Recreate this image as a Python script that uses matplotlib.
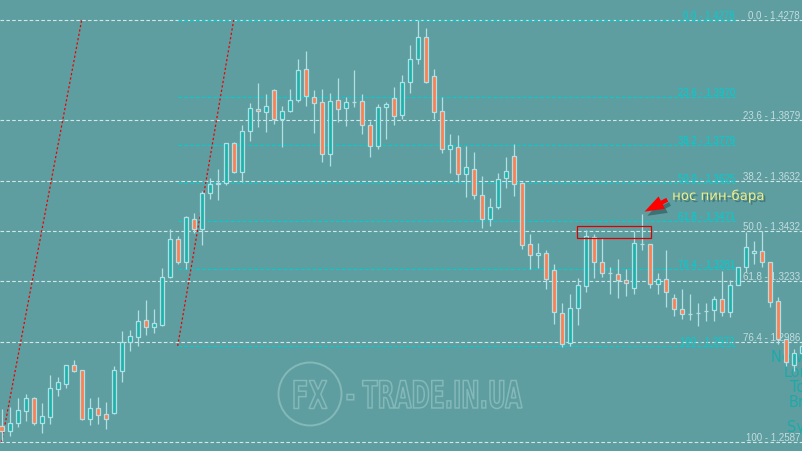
import matplotlib
matplotlib.use('Agg')
import numpy as np
import matplotlib.pyplot as plt
from matplotlib.patches import Rectangle, Circle, PathPatch, FancyArrowPatch
from matplotlib.textpath import TextPath
from matplotlib.font_manager import FontProperties
from matplotlib.transforms import Affine2D, blended_transform_factory
import matplotlib.patheffects as pe

plt.rcParams['lines.scale_dashes'] = False

# ---------------- data ----------------
opens = [1.2651, 1.2631, 1.2663, 1.2711, 1.2763, 1.2663, 1.2687, 1.2799, 1.2819, 1.2896,
         1.2876, 1.2679, 1.2723, 1.2699, 1.2703, 1.2872, 1.2988, 1.3008, 1.3076, 1.3048,
         1.3056, 1.3248, 1.3400, 1.3308, 1.3481, 1.3440, 1.3585, 1.3621, 1.3625, 1.3785,
         1.3670, 1.3833, 1.3921, 1.3909, 1.3997, 1.3881, 1.3913, 1.3957, 1.4082, 1.3969,
         1.3949, 1.3741, 1.3957, 1.3925, 1.3949, 1.3953, 1.3857, 1.3773, 1.3929, 1.3965,
         1.3897, 1.4030, 1.4122, 1.4210, 1.4054, 1.3913, 1.3761, 1.3769, 1.3662, 1.3681,
         1.3577, 1.3481, 1.3529, 1.3645, 1.3733, 1.3625, 1.3380, 1.3336, 1.3344, 1.3276,
         1.3104, 1.2984, 1.3124, 1.3212, 1.3408, 1.3308, 1.3264, 1.3260, 1.3236, 1.3204,
         1.3380, 1.3380, 1.3220, 1.3240, 1.3164, 1.3120, 1.3100, 1.3104, 1.3112, 1.3116,
         1.3160, 1.3108, 1.3216, 1.3288, 1.3344, 1.3352, 1.3308, 1.3152, 1.2998, 1.2896,
         1.2944]
highs = [1.2719, 1.2727, 1.2763, 1.2779, 1.2767, 1.2743, 1.2856, 1.2847, 1.2896, 1.2916,
         1.2876, 1.2763, 1.2767, 1.2747, 1.2892, 1.3032, 1.3036, 1.3116, 1.3156, 1.3120,
         1.3284, 1.3440, 1.3412, 1.3493, 1.3505, 1.3593, 1.3645, 1.3681, 1.3785, 1.3789,
         1.3857, 1.3945, 1.4026, 1.3981, 1.4002, 1.3933, 1.4002, 1.4122, 1.4154, 1.3997,
         1.4002, 1.3985, 1.4046, 1.3969, 1.4078, 1.3981, 1.3873, 1.3941, 1.3949, 1.4010,
         1.4058, 1.4178, 1.4278, 1.4246, 1.4082, 1.3969, 1.3821, 1.3817, 1.3773, 1.3749,
         1.3653, 1.3565, 1.3666, 1.3729, 1.3781, 1.3629, 1.3420, 1.3384, 1.3356, 1.3300,
         1.3146, 1.3180, 1.3244, 1.3436, 1.3420, 1.3404, 1.3288, 1.3319, 1.3280, 1.3432,
         1.3501, 1.3380, 1.3264, 1.3356, 1.3180, 1.3200, 1.3180, 1.3146, 1.3146, 1.3172,
         1.3272, 1.3236, 1.3288, 1.3428, 1.3392, 1.3432, 1.3308, 1.3168, 1.2998, 1.2960,
         1.2992]
lows = [1.2591, 1.2611, 1.2647, 1.2671, 1.2655, 1.2623, 1.2659, 1.2771, 1.2803, 1.2868,
        1.2675, 1.2655, 1.2659, 1.2639, 1.2699, 1.2827, 1.2952, 1.2972, 1.3016, 1.3024,
        1.3052, 1.3244, 1.3300, 1.3280, 1.3424, 1.3376, 1.3561, 1.3557, 1.3617, 1.3666,
        1.3629, 1.3793, 1.3849, 1.3829, 1.3861, 1.3769, 1.3909, 1.3949, 1.3933, 1.3825,
        1.3709, 1.3693, 1.3869, 1.3853, 1.3929, 1.3821, 1.3729, 1.3761, 1.3801, 1.3857,
        1.3881, 1.3985, 1.4102, 1.4026, 1.3881, 1.3745, 1.3666, 1.3629, 1.3569, 1.3561,
        1.3444, 1.3452, 1.3521, 1.3605, 1.3573, 1.3360, 1.3280, 1.3284, 1.3200, 1.3060,
        1.2968, 1.2972, 1.3056, 1.3188, 1.3244, 1.3248, 1.3180, 1.3164, 1.3172, 1.3180,
        1.3356, 1.3204, 1.3180, 1.3128, 1.3092, 1.3080, 1.3076, 1.3052, 1.3072, 1.3072,
        1.3092, 1.3088, 1.3216, 1.3268, 1.3300, 1.3288, 1.3128, 1.2980, 1.2892, 1.2872,
        1.2936]
closes = [1.2631, 1.2663, 1.2715, 1.2763, 1.2663, 1.2691, 1.2803, 1.2827, 1.2896, 1.2872,
          1.2679, 1.2723, 1.2695, 1.2679, 1.2876, 1.2988, 1.3012, 1.3072, 1.3048, 1.3064,
          1.3248, 1.3400, 1.3308, 1.3489, 1.3440, 1.3585, 1.3621, 1.3625, 1.3785, 1.3670,
          1.3833, 1.3925, 1.3913, 1.3933, 1.3881, 1.3913, 1.3957, 1.4078, 1.3973, 1.3945,
          1.3741, 1.3953, 1.3921, 1.3949, 1.3950, 1.3857, 1.3773, 1.3929, 1.3941, 1.3893,
          1.4030, 1.4122, 1.4210, 1.4030, 1.3909, 1.3761, 1.3777, 1.3662, 1.3689, 1.3577,
          1.3481, 1.3529, 1.3641, 1.3673, 1.3621, 1.3376, 1.3336, 1.3344, 1.3240, 1.3108,
          1.2980, 1.3124, 1.3216, 1.3412, 1.3308, 1.3264, 1.3264, 1.3236, 1.3224, 1.3384,
          1.3382, 1.3220, 1.3240, 1.3188, 1.3120, 1.3100, 1.3100, 1.3104, 1.3112, 1.3160,
          1.3108, 1.3216, 1.3288, 1.3368, 1.3352, 1.3308, 1.3148, 1.2998, 1.2908, 1.2944,
          1.2972]

fib_pct = ['0.0', '23.6', '38.2', '50.0', '61.8', '76.4', '100']
fib_main = [1.4278, 1.3879, 1.3632, 1.3432, 1.3233, 1.2986, 1.2587]   # big fib (white)
fib_small = [1.4278, 1.3970, 1.3779, 1.3625, 1.3471, 1.3281, 1.2972]  # small fib (cyan)
fib_main_anchor = [0, 10]      # bar indexes of the red trend line
fib_small_anchor = [22, 29]
fib_small_end = 91.66
pin_bar = 80
zone_bars = [71.9, 81.2]
zone_prices = [1.3404, 1.3452]
note_text = 'нос пин-бара'
sessions = ['New York', 'London', 'Tokyo', 'Brussels', 'Sydney']

# ---------------- style ----------------
BG = '#5f9ea0'
BULL = '#20b2aa'
BEAR = '#ff7f50'
EDGE = '#b0e0e6'
WHITE_LINE = '#d2e8e8'
WHITE_TXT = '#c4dcde'
CYAN = '#00ced1'
RED = '#ee0000'
W, H = 802, 452

fig = plt.figure(figsize=(W / 100, H / 100), dpi=100, facecolor=BG)
ov = fig.add_axes([0, 0, 1, 1], zorder=0)
ov.set_xlim(0, W); ov.set_ylim(0, H); ov.axis('off')
ax = fig.add_axes([0, 0, 1, 1], zorder=1)
ax.axis('off')

n = len(opens)
x = np.arange(n)
ax.set_xlim(-0.2125, 100.0375)
ax.set_ylim(1.2551, 1.43621)

dash = (0, (2.6, 1.6))
# white (main) fib lines
for pct, lv in zip(fib_pct, fib_main):
    ax.axhline(lv, color=WHITE_LINE, lw=0.8, ls=dash, zorder=2)
    ax.text(0.9975, lv, f'{pct} - {lv:.4f}', transform=blended_transform_factory(ax.transAxes, ax.transData),
            ha='right', va='bottom', fontsize=7, family='Liberation Sans', color=WHITE_TXT, zorder=2)
# cyan (small) fib lines
for pct, lv in zip(fib_pct, fib_small):
    ax.plot([fib_small_anchor[0], fib_small_end], [lv, lv], color=CYAN, lw=0.8, ls=dash, zorder=2)
    ax.text(fib_small_end, lv, f'{pct} - {lv:.4f}', ha='right', va='bottom', fontsize=7,
            family='Liberation Sans', color=CYAN, zorder=2)

# red trend lines of the fib grids
ax.plot(fib_main_anchor, [fib_main[-1], fib_main[0]], color=RED, lw=0.9, ls=(0, (1.6, 1.6)), zorder=2.5)
ax.plot(fib_small_anchor, [fib_small[-1], fib_small[0]], color=RED, lw=0.9, ls=(0, (1.6, 1.6)), zorder=2.5)

# candles
ax.vlines(x, lows, highs, color=EDGE, lw=0.9, zorder=3)
bw = 0.55
for i in range(n):
    o, c = opens[i], closes[i]
    fc = BULL if c >= o else BEAR
    ax.add_patch(Rectangle((i - bw / 2, min(o, c)), bw, abs(c - o), fc=fc, ec=EDGE, lw=0.9, zorder=4))

# pin bar zone
ax.add_patch(Rectangle((zone_bars[0], zone_prices[0]), zone_bars[1] - zone_bars[0],
                       zone_prices[1] - zone_prices[0], fc='none', ec='#dd0000', lw=0.9, zorder=5))

# arrow + note
arr = FancyArrowPatch((83.5, 1.3563), (pin_bar + 0.05, highs[pin_bar] + 0.0004),
                      arrowstyle='simple,head_length=1.4,head_width=1.0,tail_width=0.3',
                      mutation_scale=10, color='#ff0000', lw=0, zorder=6,
                      path_effects=[pe.SimplePatchShadow(offset=(2, -3), shadow_rgbFace='#2f5f60', alpha=0.7), pe.Normal()])
ax.add_patch(arr)
ax.text(83.8, 1.3557, note_text, fontsize=9.6, color='#eeee8c', family='DejaVu Sans', va='baseline', zorder=6,
        path_effects=[pe.withSimplePatchShadow(offset=(1.5, -1.5), shadow_rgbFace='#2f5f60', alpha=0.6)])

# watermark
WM = '#84b8b9'
def outline_text(s, x0, x1, yc, h):
    tp = TextPath((0, 0), s, size=40, prop=FontProperties(family='DejaVu Sans', weight='bold'))
    bb = tp.get_extents()
    tr = Affine2D().translate(-bb.x0, -bb.y0).scale((x1 - x0) / bb.width, h / bb.height).translate(x0, H - yc - h / 2)
    ov.add_patch(PathPatch(tr.transform_path(tp), fc='none', ec=WM, lw=1.1))

ov.add_patch(Circle((310, H - 395), 31.5, fc='none', ec=WM, lw=1.4))
outline_text('FX', 294, 327, 395.5, 28)
outline_text('- TRADE.IN.UA', 347, 522, 395.5, 28)

# session labels (cut at right edge)
SES = '#1ea9a8'
for s, (sx, sy) in zip(sessions, [(771, 362), (784, 377), (790, 392), (789, 407), (787, 432)]):
    ov.text(sx, H - sy, s, fontsize=10.5, color=SES, family='DejaVu Sans', va='baseline', ha='left')

fig.savefig('out.png', dpi=100, facecolor=BG)
